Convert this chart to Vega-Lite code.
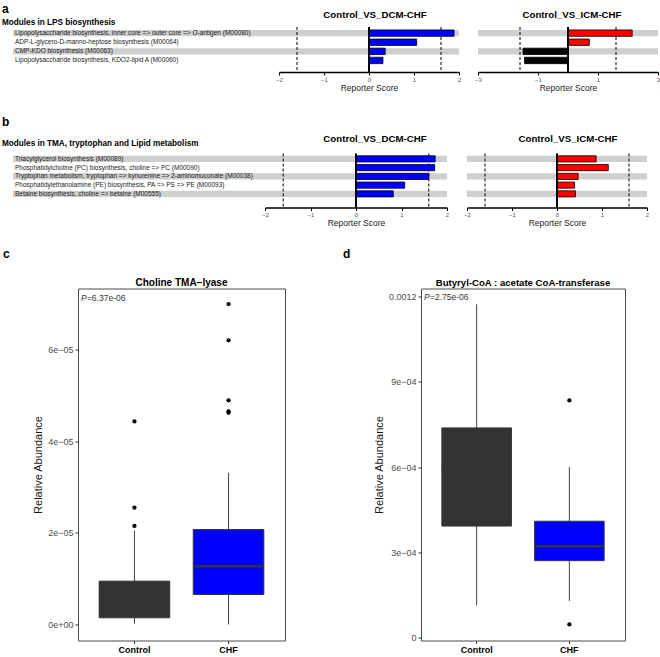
{
  "$schema": "https://vega.github.io/schema/vega-lite/v6.json",
  "padding": {"left": 2, "top": 2, "right": 0, "bottom": 0},
  "background": "white",
  "config": {"font": "Liberation Sans", "view": {"stroke": null}, "title": {"color": "black"}},
  "datasets": {
    "lps": [
      {"module": "Lipopolysaccharide biosynthesis, inner core => outer core => O-antigen (M00080)", "dcm": 1.89, "icm": 2.14},
      {"module": "ADP-L-glycero-D-manno-heptose biosynthesis (M00064)", "dcm": 1.06, "icm": 0.71},
      {"module": "CMP-KDO biosynthesis (M00063)", "dcm": 0.36, "icm": -1.5},
      {"module": "Lipopolysaccharide biosynthesis, KDO2-lipid A (M00060)", "dcm": 0.31, "icm": -1.45}
    ],
    "tma": [
      {"module": "Triacylglycerol biosynthesis (M00089)", "dcm": 1.74, "icm": 0.87},
      {"module": "Phosphatidylcholine (PC) biosynthesis, choline => PC (M00090)", "dcm": 1.73, "icm": 1.14},
      {"module": "Tryptophan metabolism, tryptophan => kynurenine => 2-aminomuconate (M00038)", "dcm": 1.6, "icm": 0.47},
      {"module": "Phosphatidylethanolamine (PE) biosynthesis, PA => PS => PE (M00093)", "dcm": 1.07, "icm": 0.39},
      {"module": "Betaine biosynthesis, choline => betaine (M00555)", "dcm": 0.82, "icm": 0.41}
    ],
    "thr": [{"t": -1.6}, {"t": 1.6}],
    "boxC": [
      {"group": "Control", "lower": 1.5e-7, "q1": 1.46e-6, "median": 5.5e-6, "q3": 9.45e-6, "upper": 2.05e-5},
      {"group": "CHF", "lower": 0, "q1": 6.54e-6, "median": 1.27e-5, "q3": 2.07e-5, "upper": 3.31e-5}
    ],
    "outC": [
      {"group": "Control", "value": 2.15e-5}, {"group": "Control", "value": 2.55e-5}, {"group": "Control", "value": 4.43e-5},
      {"group": "CHF", "value": 4.62e-5}, {"group": "CHF", "value": 4.65e-5}, {"group": "CHF", "value": 4.89e-5},
      {"group": "CHF", "value": 6.2e-5}, {"group": "CHF", "value": 6.99e-5}
    ],
    "boxD": [
      {"group": "Control", "lower": 1.12e-4, "q1": 3.92e-4, "median": 5.9e-4, "q3": 7.38e-4, "upper": 1.174e-3},
      {"group": "CHF", "lower": 1.28e-4, "q1": 2.7e-4, "median": 3.21e-4, "q3": 4.09e-4, "upper": 6.0e-4}
    ],
    "outD": [
      {"group": "CHF", "value": 8.35e-4}, {"group": "CHF", "value": 4.5e-5}
    ]
  },
  "spacing": 23.5,
  "vconcat": [
    {
      "title": {"text": "a", "subtitle": "Modules in LPS biosynthesis", "anchor": "start", "frame": "group", "dx": -10, "offset": -16.5, "fontSize": 12, "fontWeight": "bold", "color": "black", "subtitleFontSize": 8.2, "subtitleFontWeight": "bold", "subtitleColor": "black", "subtitlePadding": 3},
      "spacing": 0,
      "hconcat": [
        {"width": 1, "height": 45, "data": {"values": []}, "mark": "point", "encoding": {}},
        {
          "spacing": 13,
          "hconcat": [
            {
              "width": 180, "height": 45,
              "data": {"name": "lps"},
              "transform": [{"window": [{"op": "row_number", "as": "rn"}]}],
              "title": {"text": "Control_VS_DCM-CHF", "fontSize": 9.7, "fontWeight": "bold", "color": "black", "dx": 6, "offset": 6},
              "layer": [
                {"mark": {"type": "rect"}, "encoding": {
                  "y": {"field": "module", "type": "nominal", "sort": null, "scale": {"paddingInner": 0.3, "paddingOuter": 0.62, "align": 0.26}, "axis": null},
                  "x": {"datum": -7.9111, "type": "quantitative", "scale": {"domain": [-2, 2], "nice": false, "zero": false},
                        "axis": {"values": [-2, -1, 0, 1, 2], "title": "Reporter Score", "grid": false, "domainColor": "black", "domainWidth": 1.5, "tickColor": "black", "tickWidth": 1, "tickSize": 3, "labelFontSize": 6, "labelColor": "#555", "labelPadding": 1, "titleFontSize": 8.5, "titleFontWeight": "normal", "titleColor": "#222", "titlePadding": 1, "labelFlush": false}},
                  "x2": {"datum": 2},
                  "fill": {"condition": {"test": "datum.rn % 2 === 1", "value": "#cfcfcf"}, "value": "transparent"}}},
                {"mark": {"type": "text", "align": "left", "baseline": "middle", "dx": 2, "fontSize": 6.5, "color": "#222"}, "encoding": {
                  "y": {"field": "module", "type": "nominal", "sort": null},
                  "x": {"datum": -7.9111, "type": "quantitative"},
                  "text": {"field": "module"}}},
                {"data": {"name": "thr"}, "mark": {"type": "rule", "strokeDash": [3, 2], "color": "black", "strokeWidth": 1}, "encoding": {"x": {"field": "t", "type": "quantitative"}}},
                {"mark": {"type": "bar", "fill": "#0000ff", "stroke": "black", "strokeWidth": 0.8}, "encoding": {
                  "y": {"field": "module", "type": "nominal", "sort": null},
                  "x": {"field": "dcm", "type": "quantitative"}}},
                {"data": {"values": [{}]}, "mark": {"type": "rule", "strokeWidth": 2, "color": "black"}, "encoding": {"x": {"datum": 0, "type": "quantitative"}}}
              ]
            },
            {
              "width": 180, "height": 45,
              "data": {"name": "lps"},
              "transform": [{"window": [{"op": "row_number", "as": "rn"}]}],
              "title": {"text": "Control_VS_ICM-CHF", "fontSize": 9.7, "fontWeight": "bold", "color": "black", "dx": 4, "offset": 6},
              "layer": [
                {"mark": {"type": "rect"}, "encoding": {
                  "y": {"field": "module", "type": "nominal", "sort": null, "scale": {"paddingInner": 0.3, "paddingOuter": 0.62, "align": 0.26}, "axis": null},
                  "x": {"datum": -3, "type": "quantitative", "scale": {"domain": [-3, 3], "nice": false, "zero": false},
                        "axis": {"values": [-3, -2, -1, 0, 1, 2, 3], "title": "Reporter Score", "grid": false, "domainColor": "black", "domainWidth": 1.5, "tickColor": "black", "tickWidth": 1, "tickSize": 3, "labelFontSize": 6, "labelColor": "#555", "labelPadding": 1, "titleFontSize": 8.5, "titleFontWeight": "normal", "titleColor": "#222", "titlePadding": 1, "labelFlush": false}},
                  "x2": {"datum": 3},
                  "fill": {"condition": {"test": "datum.rn % 2 === 1", "value": "#cfcfcf"}, "value": "transparent"}}},
                {"data": {"name": "thr"}, "mark": {"type": "rule", "strokeDash": [3, 2], "color": "black", "strokeWidth": 1}, "encoding": {"x": {"field": "t", "type": "quantitative"}}},
                {"mark": {"type": "bar", "stroke": "black", "strokeWidth": 0.8}, "encoding": {
                  "y": {"field": "module", "type": "nominal", "sort": null},
                  "x": {"field": "icm", "type": "quantitative"},
                  "fill": {"condition": {"test": "datum.icm > 0", "value": "#ff0000"}, "value": "#000000"}}},
                {"data": {"values": [{}]}, "mark": {"type": "rule", "strokeWidth": 2, "color": "black"}, "encoding": {"x": {"datum": 0, "type": "quantitative"}}}
              ]
            }
          ]
        }
      ]
    },
    {
      "spacing": 20,
      "vconcat": [
        {
          "title": {"text": "b", "subtitle": "Modules in TMA, tryptophan and Lipid metabolism", "anchor": "start", "frame": "group", "dx": -10, "offset": -14, "fontSize": 12, "fontWeight": "bold", "color": "black", "subtitleFontSize": 8.2, "subtitleFontWeight": "bold", "subtitleColor": "black", "subtitlePadding": 11},
          "spacing": 0,
          "hconcat": [
            {"width": 1, "height": 54, "data": {"values": []}, "mark": "point", "encoding": {}},
            {
              "spacing": 14,
              "hconcat": [
                {
                  "width": 182, "height": 54,
                  "data": {"name": "tma"},
                  "transform": [{"window": [{"op": "row_number", "as": "rn"}]}],
                  "title": {"text": "Control_VS_DCM-CHF", "fontSize": 9.7, "fontWeight": "bold", "color": "black", "dx": 19, "offset": 9},
                  "layer": [
                    {"mark": {"type": "rect"}, "encoding": {
                      "y": {"field": "module", "type": "nominal", "sort": null, "scale": {"paddingInner": 0.3, "paddingOuter": 0.736, "align": 0.18}, "axis": null},
                      "x": {"datum": -7.53846, "type": "quantitative", "scale": {"domain": [-2, 2], "nice": false, "zero": false},
                            "axis": {"values": [-2, -1, 0, 1, 2], "title": "Reporter Score", "grid": false, "domainColor": "black", "domainWidth": 1.5, "tickColor": "black", "tickWidth": 1, "tickSize": 3, "labelFontSize": 6, "labelColor": "#555", "labelPadding": 1, "titleFontSize": 8.5, "titleFontWeight": "normal", "titleColor": "#222", "titlePadding": 1, "labelFlush": false}},
                      "x2": {"datum": 2},
                      "fill": {"condition": {"test": "datum.rn % 2 === 1", "value": "#cfcfcf"}, "value": "transparent"}}},
                    {"mark": {"type": "text", "align": "left", "baseline": "middle", "dx": 2, "fontSize": 6.5, "color": "#222"}, "encoding": {
                      "y": {"field": "module", "type": "nominal", "sort": null},
                      "x": {"datum": -7.53846, "type": "quantitative"},
                      "text": {"field": "module"}}},
                    {"data": {"name": "thr"}, "mark": {"type": "rule", "strokeDash": [3, 2], "color": "black", "strokeWidth": 1}, "encoding": {"x": {"field": "t", "type": "quantitative"}}},
                    {"mark": {"type": "bar", "fill": "#0000ff", "stroke": "black", "strokeWidth": 0.8}, "encoding": {
                      "y": {"field": "module", "type": "nominal", "sort": null},
                      "x": {"field": "dcm", "type": "quantitative"}}},
                    {"data": {"values": [{}]}, "mark": {"type": "rule", "strokeWidth": 2, "color": "black"}, "encoding": {"x": {"datum": 0, "type": "quantitative"}}}
                  ]
                },
                {
                  "width": 180, "height": 54,
                  "data": {"name": "tma"},
                  "transform": [{"window": [{"op": "row_number", "as": "rn"}]}],
                  "title": {"text": "Control_VS_ICM-CHF", "fontSize": 9.7, "fontWeight": "bold", "color": "black", "dx": 11, "offset": 9},
                  "layer": [
                    {"mark": {"type": "rect"}, "encoding": {
                      "y": {"field": "module", "type": "nominal", "sort": null, "scale": {"paddingInner": 0.3, "paddingOuter": 0.736, "align": 0.18}, "axis": null},
                      "x": {"datum": -2, "type": "quantitative", "scale": {"domain": [-2, 2], "nice": false, "zero": false},
                            "axis": {"values": [-2, -1, 0, 1, 2], "title": "Reporter Score", "grid": false, "domainColor": "black", "domainWidth": 1.5, "tickColor": "black", "tickWidth": 1, "tickSize": 3, "labelFontSize": 6, "labelColor": "#555", "labelPadding": 1, "titleFontSize": 8.5, "titleFontWeight": "normal", "titleColor": "#222", "titlePadding": 1, "labelFlush": false}},
                      "x2": {"datum": 2},
                      "fill": {"condition": {"test": "datum.rn % 2 === 1", "value": "#cfcfcf"}, "value": "transparent"}}},
                    {"data": {"name": "thr"}, "mark": {"type": "rule", "strokeDash": [3, 2], "color": "black", "strokeWidth": 1}, "encoding": {"x": {"field": "t", "type": "quantitative"}}},
                    {"mark": {"type": "bar", "stroke": "black", "strokeWidth": 0.8}, "encoding": {
                      "y": {"field": "module", "type": "nominal", "sort": null},
                      "x": {"field": "icm", "type": "quantitative"},
                      "fill": {"condition": {"test": "datum.icm > 0", "value": "#ff0000"}, "value": "#000000"}}},
                    {"data": {"values": [{}]}, "mark": {"type": "rule", "strokeWidth": 2, "color": "black"}, "encoding": {"x": {"datum": 0, "type": "quantitative"}}}
                  ]
                }
              ]
            }
          ]
        },
        {
          "spacing": 10,
          "hconcat": [
            {"width": 10, "height": 1, "data": {"values": []}, "mark": "point", "encoding": {},
             "title": {"text": "c", "anchor": "start", "frame": "group", "dx": -9, "offset": 28, "fontSize": 12, "fontWeight": "bold", "color": "black"}},
            {
              "width": 207, "height": 352,
              "view": {"stroke": "#4d4d4d"},
              "title": {"text": "Choline TMA−lyase", "fontSize": 10, "fontWeight": "bold", "color": "black", "offset": 1},
              "resolve": {"scale": {"x": "independent"}},
              "layer": [
                {
                  "encoding": {"x": {"field": "group", "type": "nominal", "sort": ["Control", "CHF"], "scale": {"paddingInner": 0.25, "paddingOuter": 0.225},
                    "axis": {"title": null, "domain": false, "tickColor": "#333", "tickSize": 3, "labelFontSize": 9, "labelFontWeight": "bold", "labelColor": "black", "labelPadding": 2, "labelAngle": 0}}},
                  "layer": [
                    {"data": {"name": "boxC"}, "mark": {"type": "rule", "color": "#444", "strokeWidth": 1},
                     "encoding": {"y": {"field": "lower", "type": "quantitative", "title": "Relative Abundance", "scale": {"domain": [-3.5e-6, 7.33e-5], "nice": false, "zero": false},
                       "axis": {"values": [0, 2e-5, 4e-5, 6e-5], "labelExpr": "datum.value < 1e-6 ? '0e+00' : datum.value < 3e-5 ? '2e−05' : datum.value < 5e-5 ? '4e−05' : '6e−05'", "grid": false, "domain": false, "tickColor": "#333", "tickSize": 3, "labelFontSize": 9, "labelColor": "#4d4d4d", "labelPadding": 2, "titleFontSize": 11, "titleFontWeight": "normal", "titleColor": "#1a1a1a", "titlePadding": 4}},
                       "y2": {"field": "upper"}}},
                    {"data": {"name": "boxC"}, "mark": {"type": "rect", "stroke": "#333", "strokeWidth": 1},
                     "encoding": {"y": {"field": "q1", "type": "quantitative"}, "y2": {"field": "q3"},
                       "fill": {"field": "group", "type": "nominal", "scale": {"domain": ["Control", "CHF"], "range": ["#333333", "#0000ff"]}, "legend": null}}},
                    {"data": {"name": "boxC"}, "mark": {"type": "rect", "stroke": "#333", "strokeWidth": 2.5, "fill": null},
                     "encoding": {"y": {"field": "median", "type": "quantitative"}, "y2": {"field": "median"}}},
                    {"data": {"name": "outC"}, "mark": {"type": "circle", "color": "black", "size": 18, "opacity": 1},
                     "encoding": {"y": {"field": "value", "type": "quantitative"}}}
                  ]
                },
                {"data": {"values": [{}]}, "mark": {"type": "text", "align": "left", "baseline": "middle", "fontSize": 8.5, "fontStyle": "italic", "color": "#333"},
                 "encoding": {"x": {"datum": 0.015, "type": "quantitative", "scale": {"domain": [0, 1]}, "axis": null}, "y": {"datum": 7.12e-5, "type": "quantitative"}, "text": {"value": "P"}}},
                {"data": {"values": [{}]}, "mark": {"type": "text", "align": "left", "baseline": "middle", "fontSize": 8.5, "color": "#333"},
                 "encoding": {"x": {"datum": 0.043, "type": "quantitative", "scale": {"domain": [0, 1]}, "axis": null}, "y": {"datum": 7.12e-5, "type": "quantitative"}, "text": {"value": "=6.37e-06"}}}
              ]
            },
            {"width": 66, "height": 1, "data": {"values": []}, "mark": "point", "encoding": {},
             "title": {"text": "d", "anchor": "start", "frame": "group", "dx": 47, "offset": 28, "fontSize": 12, "fontWeight": "bold", "color": "black"}},
            {
              "width": 204, "height": 352,
              "view": {"stroke": "#4d4d4d"},
              "title": {"text": "Butyryl-CoA : acetate CoA-transferase", "fontSize": 9.6, "fontWeight": "bold", "color": "black", "offset": 1},
              "resolve": {"scale": {"x": "independent"}},
              "layer": [
                {
                  "encoding": {"x": {"field": "group", "type": "nominal", "sort": ["Control", "CHF"], "scale": {"paddingInner": 0.25, "paddingOuter": 0.225},
                    "axis": {"title": null, "domain": false, "tickColor": "#333", "tickSize": 3, "labelFontSize": 9, "labelFontWeight": "bold", "labelColor": "black", "labelPadding": 2, "labelAngle": 0}}},
                  "layer": [
                    {"data": {"name": "boxD"}, "mark": {"type": "rule", "color": "#444", "strokeWidth": 1},
                     "encoding": {"y": {"field": "lower", "type": "quantitative", "title": "Relative Abundance", "scale": {"domain": [-1.16e-5, 1.2296e-3], "nice": false, "zero": false},
                       "axis": {"values": [0, 3e-4, 6e-4, 9e-4, 0.0012], "labelExpr": "datum.value < 1e-5 ? '0' : datum.value < 4e-4 ? '3e−04' : datum.value < 7e-4 ? '6e−04' : datum.value < 1e-3 ? '9e−04' : '0.0012'", "grid": false, "domain": false, "tickColor": "#333", "tickSize": 3, "labelFontSize": 9, "labelColor": "#4d4d4d", "labelPadding": 2, "titleFontSize": 11, "titleFontWeight": "normal", "titleColor": "#1a1a1a", "titlePadding": 4}},
                       "y2": {"field": "upper"}}},
                    {"data": {"name": "boxD"}, "mark": {"type": "rect", "stroke": "#333", "strokeWidth": 1},
                     "encoding": {"y": {"field": "q1", "type": "quantitative"}, "y2": {"field": "q3"},
                       "fill": {"field": "group", "type": "nominal", "scale": {"domain": ["Control", "CHF"], "range": ["#333333", "#0000ff"]}, "legend": null}}},
                    {"data": {"name": "boxD"}, "mark": {"type": "rect", "stroke": "#333", "strokeWidth": 2.5, "fill": null},
                     "encoding": {"y": {"field": "median", "type": "quantitative"}, "y2": {"field": "median"}}},
                    {"data": {"name": "outD"}, "mark": {"type": "circle", "color": "black", "size": 18, "opacity": 1},
                     "encoding": {"y": {"field": "value", "type": "quantitative"}}}
                  ]
                },
                {"data": {"values": [{}]}, "mark": {"type": "text", "align": "left", "baseline": "middle", "fontSize": 8.5, "fontStyle": "italic", "color": "#333"},
                 "encoding": {"x": {"datum": 0.015, "type": "quantitative", "scale": {"domain": [0, 1]}, "axis": null}, "y": {"datum": 0.0012, "type": "quantitative"}, "text": {"value": "P"}}},
                {"data": {"values": [{}]}, "mark": {"type": "text", "align": "left", "baseline": "middle", "fontSize": 8.5, "color": "#333"},
                 "encoding": {"x": {"datum": 0.044, "type": "quantitative", "scale": {"domain": [0, 1]}, "axis": null}, "y": {"datum": 0.0012, "type": "quantitative"}, "text": {"value": "=2.75e-06"}}}
              ]
            }
          ]
        }
      ]
    }
  ]
}
